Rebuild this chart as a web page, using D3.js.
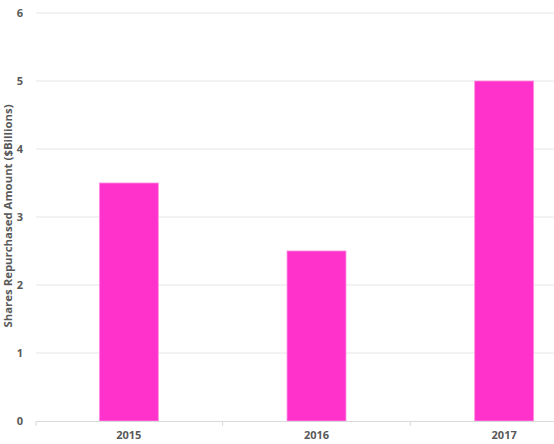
<!DOCTYPE html>
<html><head><meta charset="utf-8">
<script src="https://cdn.jsdelivr.net/npm/d3@7"></script>
<style>body{margin:0;background:#fff}svg{display:block}text{font-family:"Open Sans",sans-serif;font-weight:bold;fill:#595959}</style>
</head><body><svg id="c" width="554" height="444"></svg>
<script>
const categories = ["2015","2016","2017"];
const values = [3.5, 2.5, 5.0];
const yTicks = [0,1,2,3,4,5,6];
const yLabel = "Shares Repurchased Amount ($Billions)";

const svg = d3.select("#c");
const x = d3.scaleBand().domain(categories).range([35, 598]).paddingInner(0.686).paddingOuter(0.343);
const y = d3.scaleLinear().domain([0,6]).range([421, 13]);

svg.append("g").selectAll("line").data(yTicks.filter(d=>d>0)).join("line")
  .attr("x1",36).attr("x2",554).attr("y1",d=>y(d)).attr("y2",d=>y(d))
  .attr("stroke","#e6e6e6").attr("stroke-width",1);

svg.append("g").selectAll("text").data(yTicks).join("text")
  .attr("x",23).attr("y",d=>y(d)).attr("dy","0.35em").attr("text-anchor","end")
  .attr("font-size",11).text(d=>d);

svg.append("g").selectAll("rect").data(values).join("rect")
  .attr("x",(d,i)=>x(categories[i])).attr("width",x.bandwidth())
  .attr("y",d=>y(d)).attr("height",d=>y(0)-y(d))
  .attr("fill","#ff33cc").attr("stroke","#ff8ce0").attr("stroke-width",0.8);

svg.append("line").attr("x1",36).attr("x2",554).attr("y1",y(0)+0.5).attr("y2",y(0)+0.5)
  .attr("stroke","#d9d9d9");
const step = x.step();
const bounds = [36, x("2016")-(step-x.bandwidth())/2, x("2017")-(step-x.bandwidth())/2];
svg.append("g").selectAll("line").data(bounds).join("line")
  .attr("x1",d=>d).attr("x2",d=>d).attr("y1",y(0)).attr("y2",y(0)+5).attr("stroke","#d9d9d9");

svg.append("g").selectAll("text").data(categories).join("text")
  .attr("x",d=>x(d)+x.bandwidth()/2).attr("y",439).attr("text-anchor","middle")
  .attr("font-size",11).text(d=>d);

svg.append("text").attr("transform","translate(11.5,216) rotate(-90)")
  .attr("text-anchor","middle").attr("font-size",11.4).text(yLabel);
</script></body></html>
